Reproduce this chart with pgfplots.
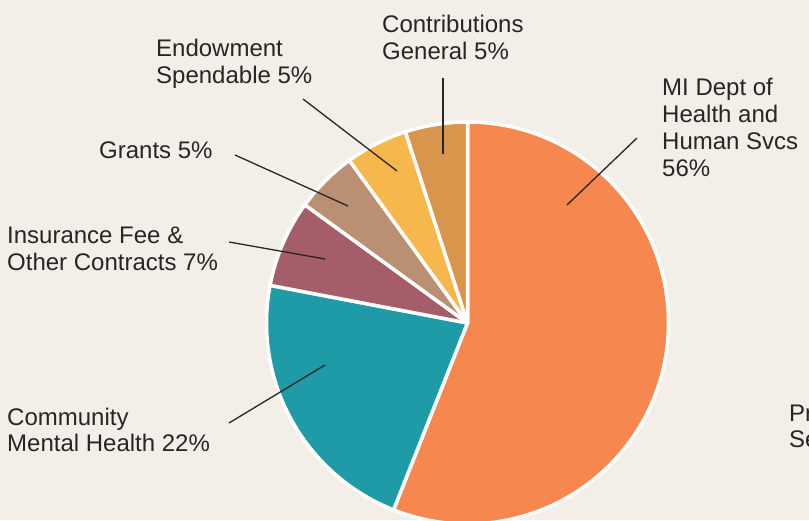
\documentclass[border=0pt]{standalone}
\usepackage{pgfplots}
\usepackage{pgfplotstable}
\pgfplotsset{compat=1.18}
\usepackage{fontspec}
\setmainfont{Liberation Sans}

\definecolor{bg}{HTML}{F4EEE8}
\definecolor{txt}{HTML}{262626}
\definecolor{cMI}{HTML}{F5874F}
\definecolor{cCMH}{HTML}{1E9BA7}
\definecolor{cIns}{HTML}{A55D69}
\definecolor{cGr}{HTML}{BB8F72}
\definecolor{cEnd}{HTML}{F6B84C}
\definecolor{cCon}{HTML}{D9954B}

% slices, clockwise from 12 o'clock
\pgfplotstableread{
name pct col
MI   56  cMI
CMH  22  cCMH
Ins  7   cIns
Gr   5   cGr
End  5   cEnd
Con  5   cCon
}\piedata

% label line: x, y (pixels from top), text
\newcommand{\lbl}[3]{\node[anchor=base west, inner sep=0pt, text=txt] at (axis cs:#1,520-#2) {#3};}
\newcommand{\lead}[4]{\draw[txt, line width=1.3pt] (axis cs:#1,520-#2) -- (axis cs:#3,520-#4);}

\begin{document}
\begin{tikzpicture}
\begin{axis}[
    hide axis,
    scale only axis,
    width=809pt, height=520pt,
    xmin=0, xmax=809, ymin=0, ymax=520,
    axis background/.style={fill=bg},
    clip=true,
    font=\fontsize{24pt}{26.7pt}\selectfont,
]
\coordinate (SW) at (rel axis cs:0,0);
\coordinate (NE) at (rel axis cs:1,1);

% wedges
\pgfplotstablegetrowsof{\piedata}
\pgfmathtruncatemacro\N{\pgfplotsretval-1}
\xdef\acc{90}
\foreach \i in {0,...,\N}{
  \pgfplotstablegetelem{\i}{pct}\of\piedata \let\p\pgfplotsretval
  \pgfplotstablegetelem{\i}{col}\of\piedata \let\c\pgfplotsretval
  \pgfmathsetmacro\bb{\acc-3.6*\p}
  \edef\temp{\noexpand\fill[\c, draw=white, line width=3.5pt, line join=round]
    (axis cs:467.5,197) -- ++(\acc:201pt) arc[start angle=\acc, end angle=\bb, radius=201pt] -- cycle;}
  \temp
  \xdef\acc{\bb}
}

% leader lines
\lead{443}{78}{443}{154}
\lead{303}{99}{397}{171}
\lead{235}{155}{348}{206}
\lead{229}{242}{325}{259}
\lead{229}{423}{325}{365}
\lead{567}{205}{637}{138}

% labels
\lbl{382}{32.7}{Contributions}
\lbl{382}{59.3}{General 5\%}
\lbl{156}{56.7}{Endowment}
\lbl{156}{83.3}{Spendable 5\%}
\lbl{99}{158.3}{Grants 5\%}
\lbl{7}{243.3}{Insurance Fee \&}
\lbl{7}{271}{Other Contracts 7\%}
\lbl{7}{425}{Community}
\lbl{7}{451.7}{Mental Health 22\%}
\lbl{662}{96}{MI Dept of}
\lbl{662}{123}{Health and}
\lbl{662}{150}{Human Svcs}
\lbl{662}{176.5}{56\%}
\lbl{789}{421.7}{Program}
\lbl{789}{447.5}{Service}
\end{axis}
\pgfresetboundingbox
\useasboundingbox (SW) rectangle (NE);
\end{tikzpicture}
\end{document}
